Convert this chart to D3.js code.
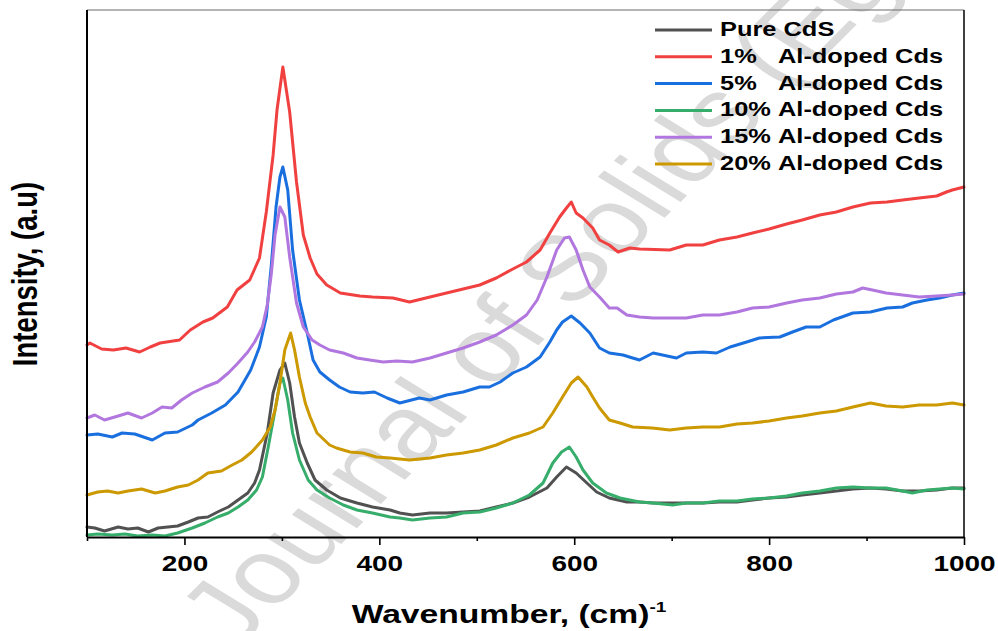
<!DOCTYPE html>
<html>
<head>
<meta charset="utf-8">
<script src="https://cdn.jsdelivr.net/npm/d3@7"></script>
<style>
  html, body { margin: 0; padding: 0; background: #fff; }
  svg { display: block; font-family: "Liberation Sans", Arial, sans-serif; }
</style>
</head>
<body>
<div id="chart"></div>
<script>
// ── data: [wavenumber cm-1, intensity a.u.]
const PURE_CDS = [[100,10],[108,9],[118,6],[132,10],[142,8],[152,9],[163,5],[173,9],[183,10],[193,11],[204,15],[214,19],[224,20],[234,25],[245,30],[255,37],[265,44],[272,54],[277,67],[285,104],[291,144],[298,167],[303,174],[308,154],[313,120],[318,94],[326,74],[334,57],[346,47],[360,39],[377,34],[393,30],[411,27],[421,24],[434,22],[452,24],[469,24],[486,25],[503,26],[520,30],[537,34],[554,40],[572,49],[582,60],[592,70],[602,64],[613,54],[623,45],[636,39],[654,35],[667,35],[681,34],[698,34],[715,34],[732,34],[749,35],[767,35],[783,37],[800,39],[818,40],[834,42],[852,44],[869,46],[886,48],[904,49],[920,48],[937,46],[954,46],[972,47],[988,49],[1000,49]];

const AL_1 = [[100,192],[103,194],[115,188],[127,187],[140,189],[154,185],[165,190],[175,194],[195,197],[206,207],[219,215],[229,219],[244,230],[254,247],[267,257],[277,279],[284,325],[291,382],[295,427],[301,470],[308,425],[315,355],[322,302],[329,279],[336,263],[346,252],[360,244],[380,241],[393,240],[414,239],[431,235],[452,240],[469,244],[486,248],[503,252],[520,259],[537,268],[551,275],[565,287],[575,304],[585,320],[592,329],[597,335],[602,324],[609,319],[619,309],[626,297],[636,292],[645,285],[657,289],[667,288],[698,287],[715,292],[732,292],[749,297],[767,300],[783,304],[800,308],[818,313],[834,317],[852,322],[869,325],[886,330],[904,334],[921,335],[937,337],[954,339],[972,341],[982,345],[988,347],[1000,350]];

const AL_5 = [[100,102],[111,103],[126,100],[136,104],[149,103],[167,97],[180,104],[193,105],[208,112],[214,117],[228,124],[242,132],[255,145],[268,167],[277,190],[284,220],[289,270],[294,330],[298,360],[301,370],[306,347],[311,287],[318,237],[326,204],[332,177],[339,165],[349,157],[359,150],[370,145],[383,144],[395,145],[408,139],[421,134],[441,139],[452,137],[469,142],[486,145],[503,150],[513,150],[524,155],[537,164],[551,170],[565,180],[575,195],[582,207],[588,215],[597,221],[606,214],[616,204],[626,189],[636,184],[650,182],[660,179],[667,177],[681,184],[705,179],[715,184],[732,185],[746,184],[760,190],[777,195],[790,199],[811,200],[824,205],[838,210],[852,210],[866,217],[886,224],[904,225],[921,229],[937,230],[947,234],[962,237],[975,239],[988,242],[1000,244]];

const AL_10 = [[100,2],[111,3],[126,2],[139,3],[152,1],[167,2],[180,1],[193,4],[208,9],[221,14],[234,20],[245,24],[255,30],[265,37],[274,47],[280,60],[286,90],[293,127],[298,154],[301,159],[306,137],[311,104],[318,77],[327,57],[336,47],[349,39],[363,32],[377,27],[393,24],[411,20],[421,19],[434,17],[452,19],[469,20],[486,24],[503,25],[520,29],[537,34],[554,42],[568,54],[578,74],[587,85],[595,90],[602,80],[609,67],[619,54],[633,44],[647,39],[667,35],[681,34],[701,32],[715,34],[732,34],[749,36],[767,36],[783,38],[800,39],[818,41],[834,44],[852,46],[869,49],[886,50],[904,49],[920,49],[937,46],[947,44],[962,47],[975,48],[988,49],[1000,48]];

const AL_15 = [[100,119],[108,122],[118,117],[132,121],[142,124],[156,119],[167,124],[177,130],[187,129],[197,137],[208,144],[221,150],[234,155],[245,164],[255,174],[265,185],[272,195],[280,210],[285,232],[289,262],[293,302],[298,330],[303,320],[308,280],[315,234],[322,210],[331,197],[339,192],[349,187],[363,184],[377,179],[390,177],[404,175],[418,176],[434,175],[452,179],[469,184],[486,189],[503,195],[520,202],[537,212],[551,222],[562,237],[572,260],[582,287],[590,299],[595,300],[602,287],[609,267],[616,250],[626,240],[636,229],[644,229],[654,222],[667,220],[681,219],[698,219],[715,219],[732,222],[749,222],[767,225],[783,229],[800,230],[818,234],[834,237],[852,239],[869,243],[886,245],[896,249],[906,247],[920,244],[937,242],[954,240],[972,241],[988,242],[1000,243]];

const AL_20 = [[100,42],[111,45],[121,46],[132,44],[142,46],[156,48],[170,44],[180,46],[193,50],[204,52],[214,57],[224,64],[238,66],[249,72],[259,77],[269,85],[280,97],[288,110],[293,127],[298,154],[303,187],[309,204],[313,187],[318,160],[324,134],[329,120],[336,104],[349,92],[356,89],[370,85],[383,84],[397,80],[411,79],[431,77],[452,79],[469,82],[486,84],[503,87],[520,92],[537,99],[554,104],[568,110],[578,124],[588,140],[597,154],[604,160],[613,150],[619,140],[626,129],[636,117],[647,114],[660,110],[680,109],[698,107],[715,109],[732,110],[749,110],[767,113],[783,114],[800,116],[818,119],[834,121],[852,124],[869,126],[886,130],[904,134],[920,131],[937,130],[954,132],[972,132],[988,134],[1000,132]];

const SERIES_NAMES  = ["Pure CdS", "1%   Al-doped Cds", "5%   Al-doped Cds", "10% Al-doped Cds", "15% Al-doped Cds", "20% Al-doped Cds"];
const SERIES_VALUES = [PURE_CDS, AL_1, AL_5, AL_10, AL_15, AL_20];
const SERIES_COLORS = ["#515151", "#F14040", "#1A6FDF", "#37AD6B", "#B177DE", "#CC9900"];

const X_DOMAIN = [100, 1000];
const Y_DOMAIN = [0, 527];
const X_MAJOR_TICKS = [200, 400, 600, 800, 1000];
const X_MINOR_TICKS = [100, 300, 500, 700, 900];

// ── layout
const W = 998, H = 631;
const MG = {t:10, r:34, b:94, l:87};
const iW = W - MG.l - MG.r, iH = H - MG.t - MG.b;
const STRETCH = 1.27;   // the original figure is widened horizontally
const FONT = "'Liberation Sans', Arial, sans-serif";

const svg = d3.select("#chart").append("svg").attr("width", W).attr("height", H);

// watermark (behind everything)
svg.append("g")
  .attr("transform", `translate(236,650) scale(${STRETCH},1) rotate(-52)`)
  .append("text")
  .attr("font-family", FONT).attr("font-size", 92).attr("fill", "#dadada")
  .text("Journal of Solids (Egypt)");

const g = svg.append("g").attr("transform", `translate(${MG.l},${MG.t})`);

const x = d3.scaleLinear().domain(X_DOMAIN).range([0, iW]);
const y = d3.scaleLinear().domain(Y_DOMAIN).range([iH, 0]);

// spectra
const line = d3.line().x(d => x(d[0])).y(d => y(d[1]));
g.selectAll(".spec").data(SERIES_VALUES).join("path")
  .attr("class", "spec")
  .attr("fill", "none")
  .attr("stroke", (_, i) => SERIES_COLORS[i])
  .attr("stroke-width", 3)
  .attr("stroke-linejoin", "round")
  .attr("stroke-linecap", "round")
  .attr("d", line);

// frame
g.append("line").attr("x1", 0).attr("x2", iW).attr("y1", 0).attr("y2", 0).attr("stroke", "#6a6a6a").attr("stroke-width", 1.2);
g.append("line").attr("x1", iW).attr("x2", iW).attr("y1", 0).attr("y2", iH).attr("stroke", "#111").attr("stroke-width", 1.6);
g.append("line").attr("x1", 0).attr("x2", 0).attr("y1", 0).attr("y2", iH).attr("stroke", "#000").attr("stroke-width", 2);

// x axis: minor then major ticks
const minorAx = g.append("g").attr("transform", `translate(0,${iH})`)
  .call(d3.axisBottom(x).tickValues(X_MINOR_TICKS).tickSize(4).tickSizeOuter(0).tickFormat(""));
minorAx.select(".domain").remove();
minorAx.selectAll(".tick line").attr("stroke", "#000").attr("stroke-width", 1.6);

const majorAx = g.append("g").attr("transform", `translate(0,${iH})`)
  .call(d3.axisBottom(x).tickValues(X_MAJOR_TICKS).tickSize(8).tickSizeOuter(0).tickFormat(d3.format("d")));
majorAx.select(".domain").attr("stroke", "#000").attr("stroke-width", 2);
majorAx.selectAll(".tick line").attr("stroke", "#000").attr("stroke-width", 1.6);
majorAx.selectAll(".tick text")
  .attr("y", 34).attr("dy", 0)
  .attr("transform", `scale(${STRETCH},1)`)
  .attr("fill", "#000")
  .attr("font-family", FONT).attr("font-size", 22).attr("font-weight", "bold");

// x label
const xl = svg.append("g").attr("transform", `translate(509,623) scale(${STRETCH},1)`)
  .append("text")
  .attr("text-anchor", "middle")
  .attr("font-family", FONT).attr("font-size", 26.5).attr("font-weight", "bold");
xl.append("tspan").text("Wavenumber, (cm)");
xl.append("tspan").attr("dy", -11).attr("font-size", 15).text("-1");

// y label
svg.append("g").attr("transform", `translate(37,274) scale(${STRETCH},1) rotate(-90)`)
  .append("text")
  .attr("text-anchor", "middle")
  .attr("font-family", FONT).attr("font-size", 27.5).attr("font-weight", "bold")
  .text("Intensity, (a.u)");

// legend
const LEG = {x1:655, x2:712, tx:720, tx2:778, y0:36, dy:26.8};
SERIES_NAMES.forEach((name, i) => {
  const by = LEG.y0 + i * LEG.dy;
  svg.append("line")
    .attr("x1", LEG.x1).attr("x2", LEG.x2).attr("y1", by - 6).attr("y2", by - 6)
    .attr("stroke", SERIES_COLORS[i]).attr("stroke-width", 3);
  const m = name.match(/^(\d+%)\s+(.*)$/);
  const parts = m ? [[LEG.tx, m[1]], [LEG.tx2, m[2]]] : [[LEG.tx, name]];
  parts.forEach(([px, txt]) => {
    svg.append("g").attr("transform", `translate(${px},${by}) scale(${STRETCH},1)`)
      .append("text")
      .attr("font-family", FONT).attr("font-size", 20).attr("font-weight", "bold")
      .text(txt);
  });
});
</script>
</body>
</html>
